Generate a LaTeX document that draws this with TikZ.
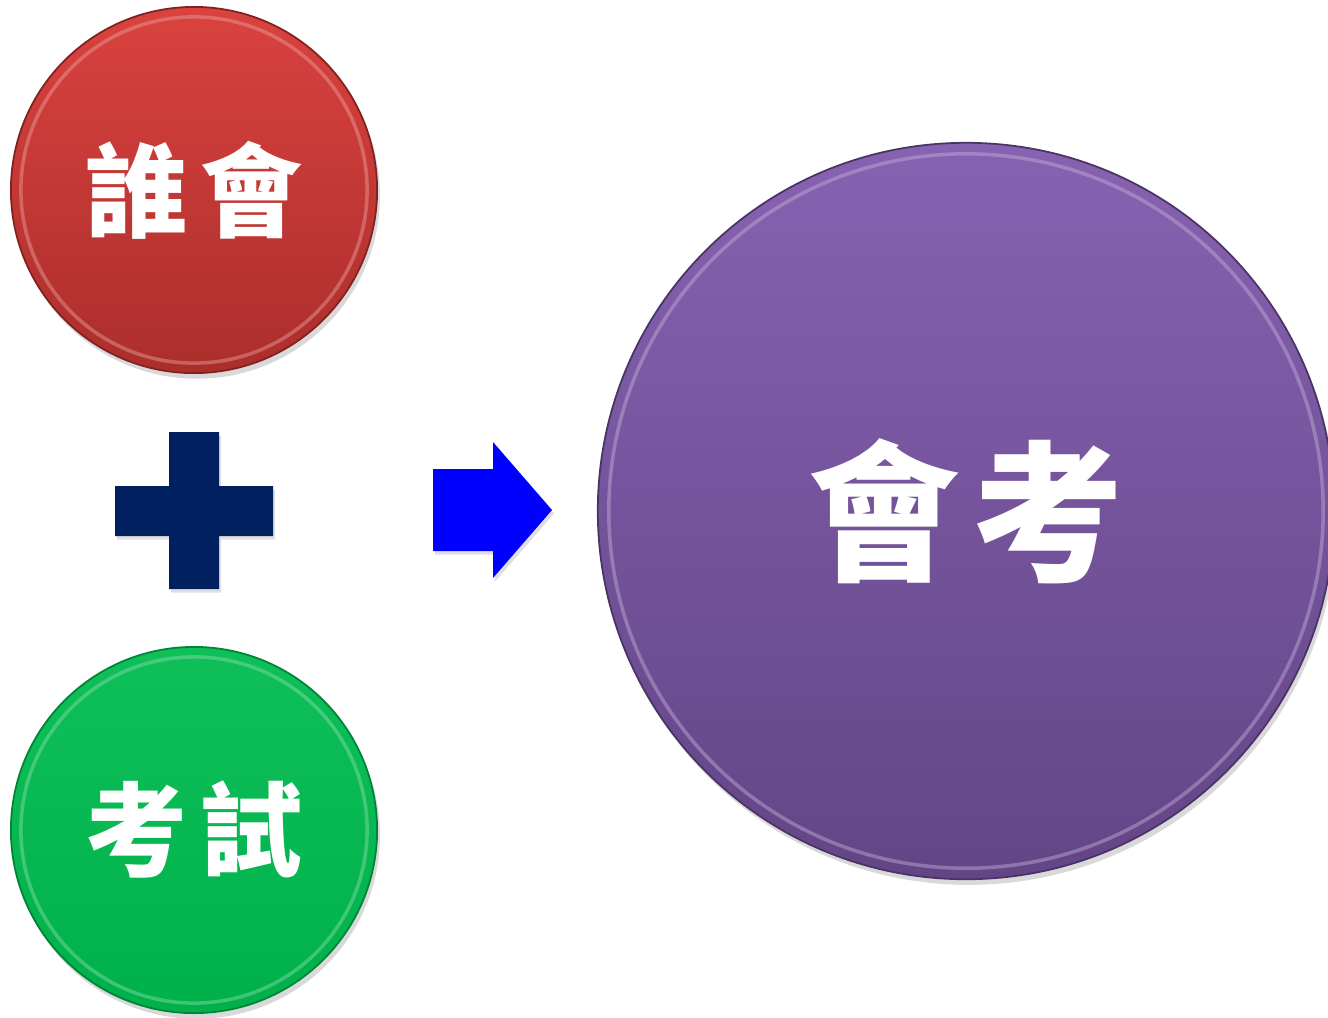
\documentclass[tikz,border=0pt]{standalone}
\usepackage{fontspec}
\newfontfamily\cjk{Noto Sans CJK TC}
\usetikzlibrary{shadows}
\definecolor{redtop}{HTML}{DA423F}
\definecolor{redbot}{HTML}{AB2E2B}
\definecolor{greentop}{HTML}{0FBF5A}
\definecolor{greenbot}{HTML}{00B04A}
\definecolor{purpletop}{HTML}{8762B1}
\definecolor{purplebot}{HTML}{634587}
\definecolor{plusblue}{HTML}{002060}
\definecolor{arrowblue}{HTML}{0000FF}
\tikzset{
  badge/.style={circle, inner sep=0pt, draw=#1bot!75!black, line width=0.5pt,
    top color=#1top, bottom color=#1bot, text=white,
    drop shadow={opacity=0.3, shadow xshift=0.8pt, shadow yshift=-1.6pt}},
  rim/.style={circle, inner sep=0pt, draw=#1top!50!white, line width=1pt, opacity=0.45},
  smalltext/.style={font=\cjk\bfseries\fontsize{29}{34}\selectfont},
  bigtext/.style={font=\cjk\bfseries\fontsize{43}{50}\selectfont}
}
\begin{document}
\begin{tikzpicture}[x=0.01cm, y=-0.01cm]
    \useasboundingbox (0,0) rectangle (1328,1017);

    \node[badge=red, minimum size=3.66cm, smalltext] (who) at (194,190) {誰\hspace{0.12em}會};
    \node[badge=green, minimum size=3.66cm, smalltext] (exam) at (194,830) {考\hspace{0.12em}試};
    \node[badge=purple, minimum size=7.36cm, bigtext] (cap) at (966,511) {會\hspace{0.08em}考};

    \node[rim=red, minimum size=3.46cm] (whorim) at (who) {};
    \node[rim=green, minimum size=3.46cm] (examrim) at (exam) {};
    \node[rim=purple, minimum size=7.14cm] (caprim) at (cap) {};

    \fill[plusblue, drop shadow={opacity=0.25, shadow xshift=0.6pt, shadow yshift=-1pt}]
        (169,432) -- (219,432) -- (219,486) -- (273,486) -- (273,536) -- (219,536)
        -- (219,589) -- (169,589) -- (169,536) -- (115,536) -- (115,486) -- (169,486) -- cycle;

    \fill[arrowblue, drop shadow={opacity=0.25, shadow xshift=0.6pt, shadow yshift=-1pt}]
        (433,469) -- (493,469) -- (493,442) -- (552,510) -- (493,578) -- (493,551)
        -- (433,551) -- cycle;
\end{tikzpicture}
\end{document}
